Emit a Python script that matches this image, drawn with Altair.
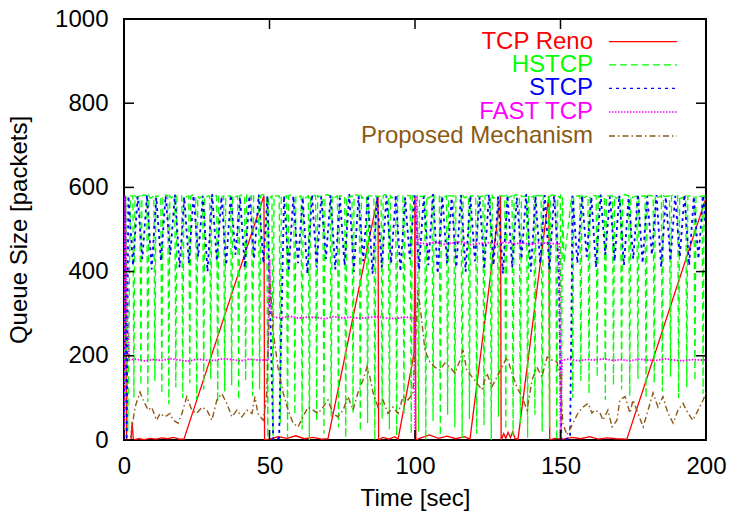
import altair as alt
import pandas as pd

# ---------------- data ----------------
x_ticks = [0, 50, 100, 150, 200]
y_ticks = [0, 200, 400, 600, 800, 1000]
series_names = ["TCP Reno", "HSTCP", "STCP", "FAST TCP", "Proposed Mechanism"]

reno_t = [0, 0.4, 0.9, 2.4, 2.8, 3.2, 5, 7, 9, 11,
          13, 15, 17, 19, 20.6, 48.1, 48.3, 50, 53, 56,
          59, 62, 65, 68, 70.1, 87.3, 87.5, 89, 91, 93,
          94.2, 99.7, 100.0, 100.3, 102, 105, 108, 111, 114, 117,
          118.9, 129.4, 129.6, 130.5, 131.2, 132, 132.8, 133.6, 134.4, 135.4,
          146.0, 146.3, 148, 151, 154, 157, 160, 163, 166, 169,
          172.8, 200]
reno_v = [0, 570, 0, 0, 43, 0, 3, 1, 4, 2,
          5, 3, 6, 2, 2, 580, 0, 2, 8, 4,
          10, 3, 6, 2, 3, 580, 0, 6, 2, 8,
          2, 207, 580, 0, 5, 12, 4, 9, 3, 8,
          2, 580, 0, 15, 4, 18, 6, 20, 3, 2,
          580, 0, 4, 2, 6, 3, 8, 2, 5, 3,
          2, 575]

# HSTCP: start-up burst, then deep drops from the ~580 ceiling
hs_start_t = [0, 0.6, 1.3, 2.2]
hs_start_v = [0, 580, 20, 580]
hs_peak = 580
hs_drop_t = [3.4, 5.8, 8.2, 10.6, 13.0, 15.4, 17.8, 20.2, 22.6, 25.0,
             27.4, 29.8, 32.2, 34.6, 37.0, 39.4, 41.8, 44.2, 46.6, 49.4,
             51.2, 53.7, 56.2, 58.7, 61.2, 63.7, 66.2, 68.7, 71.2, 73.7,
             76.2, 78.7, 81.2, 83.7, 86.2, 88.7, 91.2, 93.7, 96.2, 98.7,
             101.2, 103.7, 106.2, 108.7, 111.2, 113.7, 116.2, 118.7, 121.2, 123.7,
             126.2, 128.7, 131.2, 133.7, 136.2, 138.7, 141.2, 143.7, 146.2, 148.7,
             150.3, 154.2, 157.0, 159.8, 162.6, 165.4, 168.2, 171.0, 173.8, 176.6,
             179.4, 182.2, 185.0, 187.8, 190.6, 193.4, 196.2, 199.0]
hs_drop_v = [100, 130, 90, 140, 110, 85, 125, 100, 135, 95,
             120, 145, 90, 115, 130, 95, 140, 105, 120, 5,
             10, 40, 5, 60, 25, 0, 45, 15, 55, 30,
             5, 65, 20, 40, 0, 50, 25, 10, 60, 15,
             20, 0, 45, 10, 60, 30, 5, 50, 15, 35,
             0, 55, 25, 10, 40, 5, 60, 20, 30, 0,
             0, 100, 140, 110, 150, 95, 130, 120, 105, 145,
             100, 135, 115, 150, 100, 125, 140, 110]
hs_band_v = [576, 582, 574, 579, 583, 575, 580, 577, 582, 574,
             578, 583, 575, 580, 576, 582, 574, 579, 583, 576,
             580, 575, 582, 577, 574, 581, 578, 583, 575, 579,
             576, 582, 574, 580, 577, 583, 575, 579, 581, 576,
             578, 574, 582, 576, 580, 583, 575, 579, 577, 582,
             574, 580, 576, 583, 578, 575, 581, 577, 582, 576,
             420, 579, 575, 582, 577, 580, 574, 583, 576, 579,
             581, 575, 578, 582, 574, 580, 577, 579]

st_t = [0, 0.4, 0.9,
        1.5, 3.1, 4.7, 6.3, 7.9, 9.5, 11.1, 12.7, 14.3, 15.9,
        17.5, 19.1, 20.7, 22.3, 23.9, 25.5, 27.1, 28.7, 30.3, 31.9,
        33.5, 35.1, 36.7, 38.3, 39.9, 41.5, 43.1, 44.7, 46.3, 47.9,
        49.3, 51.3, 53.3, 55.0,
        56.6, 58.2, 59.8, 61.4, 63.0, 64.6, 66.2, 67.8, 69.4, 71.0,
        72.6, 74.2, 75.8, 77.4, 79.0, 80.6, 82.2, 83.8, 85.4, 87.0,
        88.6, 90.2, 91.8, 93.4, 95.0, 96.6, 98.2, 99.8, 101.4, 103.0,
        104.6, 106.2, 107.8, 109.4, 111.0, 112.6, 114.2, 115.8, 117.4, 119.0,
        120.6, 122.2, 123.8, 125.4, 127.0, 128.6, 130.2, 131.8, 133.4, 135.0,
        136.6, 138.2, 139.8, 141.4, 143.0, 144.6, 146.2, 147.8, 149.4,
        150.3, 153.3, 154.2,
        155.8, 157.4, 159.0, 160.6, 162.2, 163.8, 165.4, 167.0, 168.6, 170.2,
        171.8, 173.4, 175.0, 176.6, 178.2, 179.8, 181.4, 183.0, 184.6, 186.2,
        187.8, 189.4, 191.0, 192.6, 194.2, 195.8, 197.4, 199.0, 200.0]
st_v = [0, 580, 0,
        580, 415, 578, 430, 582, 405, 576, 425, 580, 440,
        583, 410, 577, 420, 581, 435, 579, 400, 584, 425,
        578, 415, 582, 440, 576, 410, 580, 430, 583, 420,
        580, 0, 5, 580,
        400, 580, 420, 576, 395, 583, 410, 578, 430, 581,
        405, 575, 415, 584, 400, 579, 425, 582, 395, 577,
        410, 580, 420, 583, 400, 576, 430, 581, 405, 578,
        415, 584, 395, 579, 420, 575, 410, 582, 400, 580,
        425, 577, 405, 583, 415, 578, 395, 581, 410, 576,
        430, 584, 400, 579, 420, 582, 405, 580, 415,
        0, 5, 580,
        420, 580, 435, 577, 410, 583, 440, 578, 425, 581,
        415, 576, 430, 584, 420, 579, 440, 582, 410, 577,
        425, 580, 435, 583, 415, 578, 430, 581, 500]

fast_t = [0, 0.4, 1.0, 1.8, 4, 7, 10, 13, 16, 19,
          22, 25, 28, 31, 34, 37, 40, 43, 46, 49.5,
          50.0, 50.6, 51.5, 54, 57, 60, 63, 66, 69, 72,
          75, 78, 81, 84, 87, 90, 93, 96, 99.7, 100.0,
          100.3, 101.0, 104, 107, 110, 113, 116, 119, 122, 125,
          128, 131, 134, 137, 140, 143, 146, 149.6, 150.0, 150.5,
          153, 156, 159, 162, 165, 168, 171, 174, 177, 180,
          183, 186, 189, 192, 195, 198, 200]
fast_v = [0, 580, 300, 190, 192, 188, 191, 189, 193, 190,
          187, 192, 190, 189, 193, 191, 188, 192, 190, 190,
          430, 300, 292, 290, 294, 289, 292, 291, 288, 293,
          290, 292, 289, 291, 293, 290, 288, 292, 290, 0,
          580, 468, 466, 470, 465, 468, 471, 464, 467, 469,
          465, 470, 466, 468, 464, 469, 467, 466, 0, 190,
          192, 188, 191, 190, 193, 189, 191, 188, 192, 190,
          189, 193, 190, 188, 191, 190, 190]

prop_t = [0, 2.1, 3.8, 5.5, 6.6, 8.3, 9.5, 11.2, 12.4, 14.1,
          15.8, 16.9, 18.6, 19.9, 21.6, 23.3, 25.0, 26.8, 28.5, 30.2,
          31.9, 33.6, 35.3, 37.1, 38.8, 40.5, 42.2, 44.0, 45.0, 46.0,
          47.8, 49.0, 50.2, 51.2, 52.9, 54.7, 56.4, 58.1, 59.8, 61.5,
          63.2, 65.0, 66.7, 68.4, 70.1, 71.8, 73.5, 75.3, 77.0, 78.7,
          80.4, 82.1, 83.5, 84.5, 85.6, 87.3, 89.0, 90.7, 92.4, 94.2,
          95.9, 97.6, 99.3, 100.3, 101.0, 102.3, 103.4, 105.1, 106.8, 108.6,
          110.3, 112.0, 113.7, 115.5, 116.5, 117.8, 119.6, 121.3, 123.0, 124.7,
          126.4, 128.2, 129.9, 131.6, 133.3, 135.0, 136.8, 138.5, 140.2, 141.9,
          143.6, 145.4, 147.1, 148.8, 150.0, 150.8, 152.2, 154.3, 156.0, 157.7,
          159.5, 160.8, 161.9, 163.6, 164.6, 166.3, 167.7, 169.4, 170.4, 172.2,
          173.9, 174.9, 176.6, 178.4, 180.1, 181.8, 183.5, 185.2, 186.9, 188.7,
          190.4, 192.1, 193.8, 195.5, 197.3, 199.0, 200.0]
prop_v = [0, 0, 78, 114, 95, 71, 78, 47, 63, 55,
          63, 47, 40, 63, 103, 71, 63, 78, 71, 47,
          95, 110, 87, 55, 71, 55, 71, 63, 103, 63,
          47, 103, 380, 261, 173, 112, 71, 40, 31, 55,
          78, 71, 63, 78, 95, 63, 55, 71, 103, 71,
          112, 142, 173, 150, 112, 78, 95, 63, 78, 63,
          103, 95, 112, 250, 356, 285, 214, 185, 173, 166,
          183, 173, 159, 190, 214, 166, 150, 135, 119, 159,
          126, 150, 173, 197, 159, 126, 102, 71, 142, 173,
          150, 197, 190, 185, 150, 40, 12, 40, 64, 78,
          87, 64, 71, 64, 47, 71, 31, 47, 95, 103,
          64, 95, 64, 31, 71, 112, 78, 103, 64, 40,
          71, 87, 64, 47, 71, 95, 112]

# ---------------- styles ----------------
FONT = "Liberation Sans"
FS = 24
W, H = 582, 421
colors = ["#ff0000", "#00ff00", "#0000ff", "#ff00ff", "#8c5a14"]
dashes = [None, [7, 4], [3, 4], [1.5, 1.5], [6, 3, 1.5, 3]]
widths = [1.3, 1.3, 1.8, 1.8, 1.4]
legend_rows = [22.7, 45.9, 69.3, 93.0, 117.0]


def frame(ts, vs):
    n = min(len(ts), len(vs))
    return pd.DataFrame({"t": ts[:n], "v": vs[:n], "i": list(range(n))})


# HSTCP polyline: each listed drop is a sharp dip from the ceiling and back,
# followed by a point at the ceiling (values all listed above)
hs_t, hs_v = list(hs_start_t), list(hs_start_v)
for c, dv, bv in zip(hs_drop_t, hs_drop_v, hs_band_v):
    hs_t += [c - 0.35, c, c + 0.35, c + 0.9]
    hs_v += [hs_peak, dv, hs_peak, bv]

xscale = alt.Scale(domain=[0, 200], nice=False, zero=False)
yscale = alt.Scale(domain=[0, 1000], nice=False, zero=False)
xaxis = alt.Axis(values=x_ticks, title="Time [sec]", format="d", domain=False, ticks=False,
                 grid=False, labelFontSize=FS, titleFontSize=FS, labelFont=FONT, titleFont=FONT,
                 labelColor="black", titleColor="black", titleFontWeight="normal",
                 labelPadding=14, titlePadding=8, labelFlush=False)
yaxis = alt.Axis(values=y_ticks, title="Queue Size [packets]", format="d", domain=False,
                 ticks=False, grid=False, labelFontSize=FS, titleFontSize=FS, labelFont=FONT,
                 titleFont=FONT, labelColor="black", titleColor="black",
                 titleFontWeight="normal", labelPadding=16, titlePadding=23, labelFlush=False)

X = alt.X("t:Q", scale=xscale, axis=xaxis)
Y = alt.Y("v:Q", scale=yscale, axis=yaxis)

series_data = [frame(reno_t, reno_v), frame(hs_t, hs_v), frame(st_t, st_v),
               frame(fast_t, fast_v), frame(prop_t, prop_v)]

layers = []
for df, c, d, w in zip(series_data, colors, dashes, widths):
    kw = dict(color=c, strokeWidth=w, clip=True)
    if d is not None:
        kw["strokeDash"] = d
    layers.append(alt.Chart(df).mark_line(**kw).encode(x=X, y=Y, order="i:Q"))

xt = pd.DataFrame({"t": x_ticks})
yt = pd.DataFrame({"v": y_ticks})
tick_kw = dict(color="black", strokeWidth=1.5)
layers.append(alt.Chart(xt).mark_rule(**tick_kw).encode(x=X, y=alt.value(H), y2=alt.value(H - 10)))
layers.append(alt.Chart(xt).mark_rule(**tick_kw).encode(x=X, y=alt.value(0), y2=alt.value(10)))
layers.append(alt.Chart(yt).mark_rule(**tick_kw).encode(y=Y, x=alt.value(0), x2=alt.value(10)))
layers.append(alt.Chart(yt).mark_rule(**tick_kw).encode(y=Y, x=alt.value(W), x2=alt.value(W - 10)))

for name, c, d, w, ry in zip(series_names, colors, dashes, widths, legend_rows):
    ldf = pd.DataFrame({"name": [name]})
    layers.append(alt.Chart(ldf).mark_text(align="right", baseline="middle", fontSize=FS,
                                           font=FONT, color=c)
                  .encode(text="name:N", x=alt.value(469), y=alt.value(ry)))
    kw = dict(color=c, strokeWidth=1.3)
    if d is not None:
        kw["strokeDash"] = d
    layers.append(alt.Chart(ldf).mark_rule(**kw)
                  .encode(x=alt.value(485), x2=alt.value(553), y=alt.value(ry)))

chart = alt.layer(*layers).properties(
    width=W, height=H,
    padding={"left": 124, "top": 19, "right": 26, "bottom": 76},
    autosize=alt.AutoSizeParams(type="none"),
    background="white",
).configure_view(stroke="black", strokeWidth=2)

chart.save("out.html", embed_options={"renderer": "svg", "actions": False})
